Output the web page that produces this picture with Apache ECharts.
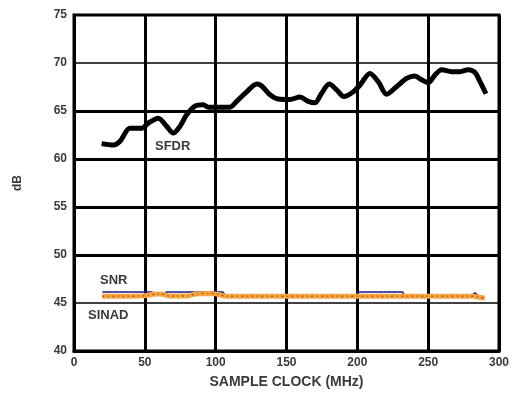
<!DOCTYPE html>
<html>
<head>
<meta charset="utf-8">
<script src="https://cdn.jsdelivr.net/npm/echarts@6/dist/echarts.min.js"></script>
<style>html,body{margin:0;padding:0;background:#fff;}#c{width:512px;height:394px;}</style>
</head>
<body>
<div id="c"></div>
<script>
// Data
const sfdr = [[19.5,61.6],[27.8,61.45],[32.5,61.85],[39.5,63.2],[47.8,63.2],[52.5,63.75],[59.5,64.25],[65.4,63.4],[70.1,62.7],[74.8,63.4],[79.5,64.6],[85.4,65.5],[91.3,65.65],[94.8,65.4],[110,65.4],[114.8,66.0],[121.9,67.0],[129,67.8],[132.5,67.6],[138.4,66.7],[144.2,66.25],[152.5,66.2],[159.5,66.45],[165.4,66.0],[170.1,65.85],[174.8,66.85],[180.2,67.8],[185.4,67.2],[190.6,66.5],[197.2,67.0],[201.9,67.7],[208.9,68.9],[214.8,68.05],[220.7,66.75],[227.8,67.55],[234.8,68.4],[240.7,68.65],[245.4,68.25],[250.1,67.95],[254.8,68.75],[259.5,69.3],[266.6,69.1],[272.5,69.1],[278.3,69.3],[283.1,69.0],[286.6,68.05],[290.8,66.8]];
const snr = [[20,46.15],[55,46.15],[56,45.9],[64,45.9],[65,46.15],[82,46.15],[83,45.95],[105,46.15],[107,45.8],[199.5,45.8],[200,46.15],[232,46.15],[233,45.8],[281,45.8],[283,46.05],[285,45.8],[290,45.6]];
const sinad = [[20,45.7],[40,45.7],[50,45.75],[58,45.95],[63,45.9],[67,45.72],[80,45.72],[86,45.95],[95,46.0],[100,45.95],[107,45.7],[282,45.7],[290,45.5]];
const xTicks = [0,50,100,150,200,250,300];
const yThick = [50,55,60,65];
const yThin = [45,70];

const chart = echarts.init(document.getElementById('c'));
const font = {fontFamily:'Liberation Sans', fontWeight:'bold', color:'#3a3a3a', fontSize:12};
const gridLines = yThick.map(v=>({yAxis:v, lineStyle:{width:3}})).concat(yThin.map(v=>({yAxis:v, lineStyle:{width:1.5}})));
chart.setOption({
  animation:false,
  grid:{left:74,right:13,top:15,bottom:42,show:true,borderColor:'#000',borderWidth:3},
  xAxis:{type:'value',min:0,max:300,interval:50,
    axisLine:{show:true,lineStyle:{color:'#000',width:3}},axisTick:{show:false},
    splitLine:{show:true,lineStyle:{color:'#000',width:3}},
    axisLabel:Object.assign({margin:6},font),
    name:'SAMPLE CLOCK (MHz)',nameLocation:'middle',nameGap:24,
    nameTextStyle:Object.assign({},font,{fontSize:14})},
  yAxis:{type:'value',min:40,max:75,interval:5,
    axisLine:{show:true,lineStyle:{color:'#000',width:3}},axisTick:{show:false},
    splitLine:{show:false},
    axisLabel:Object.assign({margin:7},font),
    name:'dB',nameLocation:'middle',nameGap:50,nameRotate:90,
    nameTextStyle:Object.assign({},font,{fontSize:12})},
  series:[
    {type:'line',data:snr,showSymbol:false,lineStyle:{color:'#1a1a8c',width:1.5},z:3},
    {type:'line',data:sinad,showSymbol:false,lineStyle:{color:'#f7a640',width:5},z:4},
    {type:'line',data:sinad,showSymbol:false,lineStyle:{color:'#e53a2a',width:1.5,type:[2,8]},z:5},
    {type:'line',data:sinad,showSymbol:false,lineStyle:{color:'#7a9a30',width:1.5,type:[2,8],dashOffset:5},z:5},
    {type:'line',data:sfdr,showSymbol:false,smooth:0.3,lineStyle:{color:'#000',width:5},z:6,
      markLine:{silent:true,symbol:'none',label:{show:false},lineStyle:{color:'#000',type:'solid'},data:gridLines}}
  ],
  graphic:[
    {type:'text',left:155,top:140,style:{text:'SFDR',fill:'#3a3a3a',font:'bold 13px Liberation Sans'}},
    {type:'text',left:100,top:274,style:{text:'SNR',fill:'#3a3a3a',font:'bold 13px Liberation Sans'}},
    {type:'text',left:88,top:309,style:{text:'SINAD',fill:'#3a3a3a',font:'bold 13px Liberation Sans'}}
  ]
});
</script>
</body>
</html>
